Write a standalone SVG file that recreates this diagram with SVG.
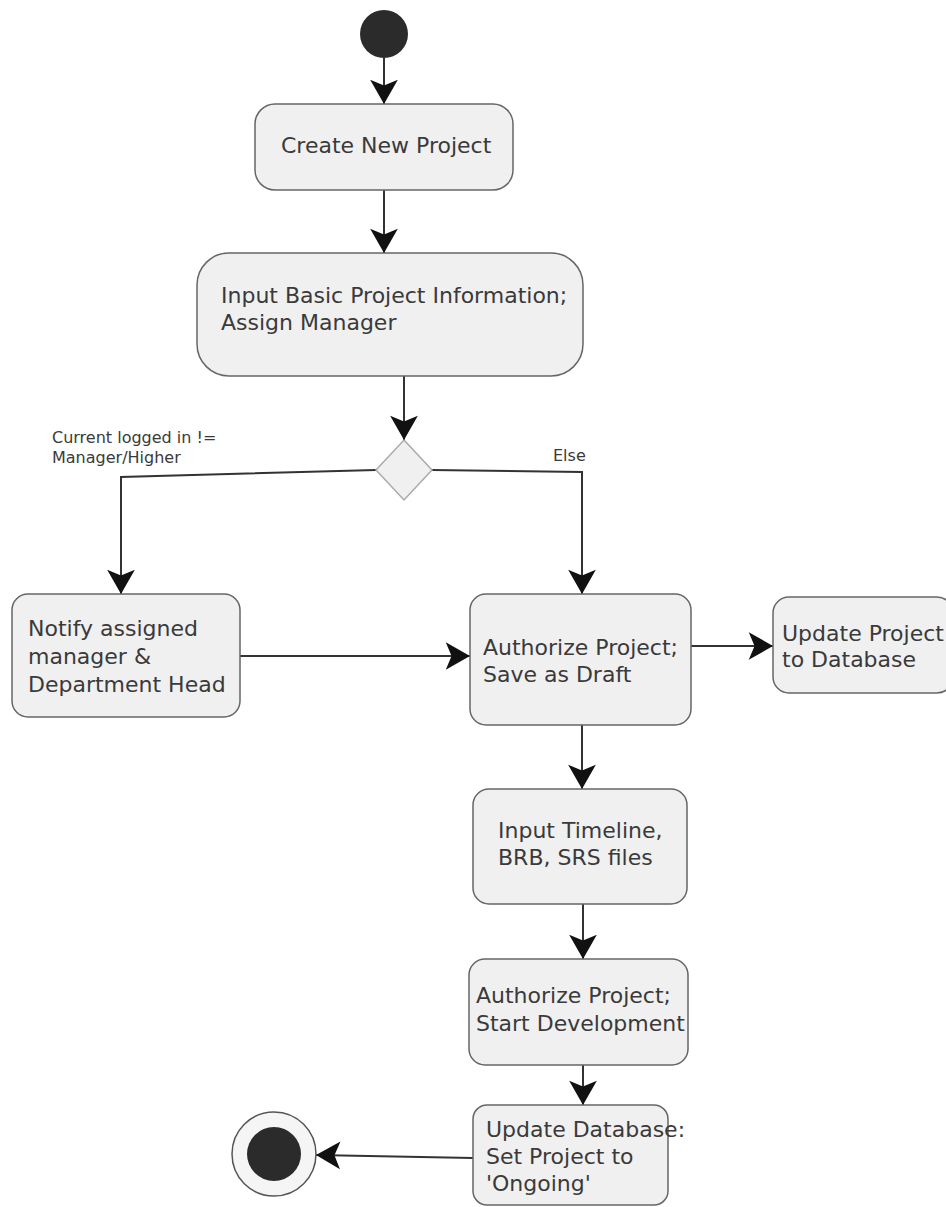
<svg xmlns="http://www.w3.org/2000/svg" width="946" height="1207" viewBox="0 0 946 1207">
<style>
.box{fill:#f0f0f0;stroke:#666;stroke-width:1.5}
.t{font-family:"DejaVu Sans","Verdana",sans-serif;font-size:22px;fill:#3a3a3a}
.s{font-family:"DejaVu Sans","Verdana",sans-serif;font-size:16px;fill:#3a3a3a}
.c{fill:none;stroke:#333;stroke-width:2;marker-end:url(#ah)}
</style>
<defs>
<marker id="ah" markerUnits="userSpaceOnUse" markerWidth="30" markerHeight="30" viewBox="-22 -13 24 26" refX="0" refY="0" orient="auto">
<path d="M0,0 L-21,-12 L-16,0 L-21,12 Z" fill="#111"/>
</marker>
</defs>
<rect width="946" height="1207" fill="#fff"/>
<g id="connectors">
<path class="c" d="M384,58 V104"/>
<path class="c" d="M384,190 V253"/>
<path class="c" d="M404,376 V440"/>
<path class="c" d="M376,470 L121,477 V594"/>
<path class="c" d="M432,470 L582,472 V594"/>
<path class="c" d="M240,656 H470"/>
<path class="c" d="M691,646 H773"/>
<path class="c" d="M582,725 V789"/>
<path class="c" d="M583,904 V959"/>
<path class="c" d="M583,1065 V1105"/>
<path class="c" d="M473,1158 L316,1155"/>
</g>
<g id="start"><circle cx="384" cy="34" r="24" fill="#2b2b2b"/></g>
<g id="create"><rect class="box" x="255" y="104" width="258" height="86" rx="20"/><text class="t" x="281" y="153">Create New Project</text></g>
<g id="input-basic"><rect class="box" x="197" y="253" width="386" height="123" rx="32"/><text class="t" x="221" y="303">Input Basic Project Information;</text><text class="t" x="221" y="330">Assign Manager</text></g>
<g id="decision"><polygon points="404,440 432,470 404,500 376,470" fill="#f0f0f0" stroke="#aaa" stroke-width="1.5"/></g>
<g id="labels"><text class="s" x="52" y="443">Current logged in !=</text><text class="s" x="52" y="463">Manager/Higher</text><text class="s" x="553" y="461">Else</text></g>
<g id="notify"><rect class="box" x="12" y="594" width="228" height="123" rx="16"/><text class="t" x="28" y="636">Notify assigned</text><text class="t" x="28" y="664">manager &amp;</text><text class="t" x="28" y="692">Department Head</text></g>
<g id="authorize-draft"><rect class="box" x="470" y="594" width="221" height="131" rx="16"/><text class="t" x="483" y="655">Authorize Project;</text><text class="t" x="483" y="682">Save as Draft</text></g>
<g id="update-project"><rect class="box" x="773" y="597" width="180" height="96" rx="16"/><text class="t" x="782" y="641">Update Project</text><text class="t" x="782" y="667">to Database</text></g>
<g id="input-timeline"><rect class="box" x="473" y="789" width="214" height="115" rx="16"/><text class="t" x="498" y="838">Input Timeline,</text><text class="t" x="498" y="865">BRB, SRS files</text></g>
<g id="authorize-start"><rect class="box" x="469" y="959" width="219" height="106" rx="16"/><text class="t" x="476" y="1003">Authorize Project;</text><text class="t" x="476" y="1031">Start Development</text></g>
<g id="update-db"><rect class="box" x="473" y="1105" width="195" height="100" rx="14"/><text class="t" x="486" y="1137">Update Database:</text><text class="t" x="486" y="1164">Set Project to</text><text class="t" x="486" y="1191">'Ongoing'</text></g>
<g id="end"><circle cx="274" cy="1154" r="42" fill="#f5f5f5" stroke="#555" stroke-width="1.5"/><circle cx="274" cy="1154" r="27" fill="#2b2b2b"/></g>
</svg>
